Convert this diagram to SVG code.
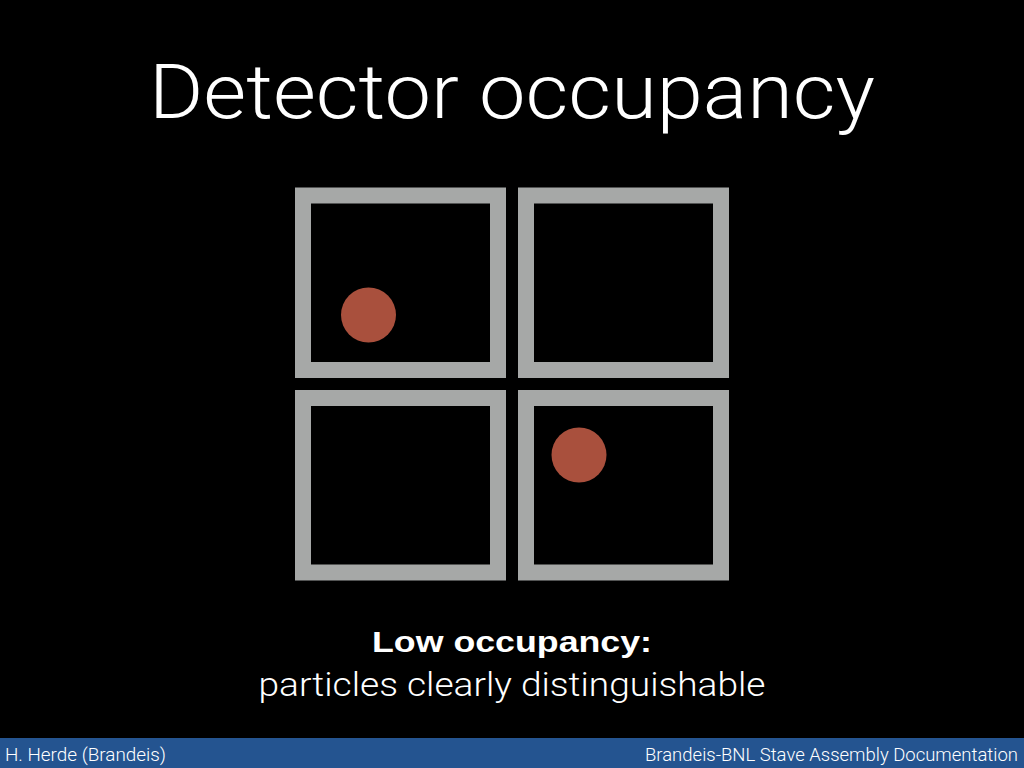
<svg xmlns="http://www.w3.org/2000/svg" width="1024" height="768" viewBox="0 0 1024 768">
<style>
.frame{fill:none;stroke:#a6a8a7;stroke-width:16}
.hit{fill:#a9503d}
.t{fill:#ffffff;font-family:Roboto,"Liberation Sans",sans-serif}
.b{fill:#ffffff;font-family:"Liberation Sans",Arial,sans-serif;font-weight:bold}
</style>
<rect x="0" y="0" width="1024" height="768" fill="#000"/>
<text class="t" x="512" y="118" text-anchor="middle" font-size="76" font-weight="300" textLength="726" lengthAdjust="spacingAndGlyphs">Detector occupancy</text>
<g id="cell-top-left"><rect class="frame" x="303" y="195.5" width="195" height="174.5"/><circle class="hit" cx="368.5" cy="315" r="27.5"/></g>
<g id="cell-top-right"><rect class="frame" x="526" y="195.5" width="195" height="174.5"/></g>
<g id="cell-bottom-left"><rect class="frame" x="303" y="398" width="195" height="174.5"/></g>
<g id="cell-bottom-right"><rect class="frame" x="526" y="398" width="195" height="174.5"/><circle class="hit" cx="579" cy="455" r="27.5"/></g>
<g id="connectors"/>
<text class="b" x="512" y="652" text-anchor="middle" font-size="30" textLength="280" lengthAdjust="spacingAndGlyphs">Low occupancy:</text>
<text class="t" x="512" y="696" text-anchor="middle" font-size="33" font-weight="300" textLength="507" lengthAdjust="spacingAndGlyphs">particles clearly distinguishable</text>
<rect x="0" y="738" width="1024" height="30" fill="#245490"/>
<text class="t" x="5" y="761" font-size="18" font-weight="300" textLength="161" lengthAdjust="spacingAndGlyphs">H. Herde (Brandeis)</text>
<text class="t" x="1018" y="761" text-anchor="end" font-size="18" font-weight="300" textLength="373" lengthAdjust="spacingAndGlyphs">Brandeis-BNL Stave Assembly Documentation</text>
</svg>
